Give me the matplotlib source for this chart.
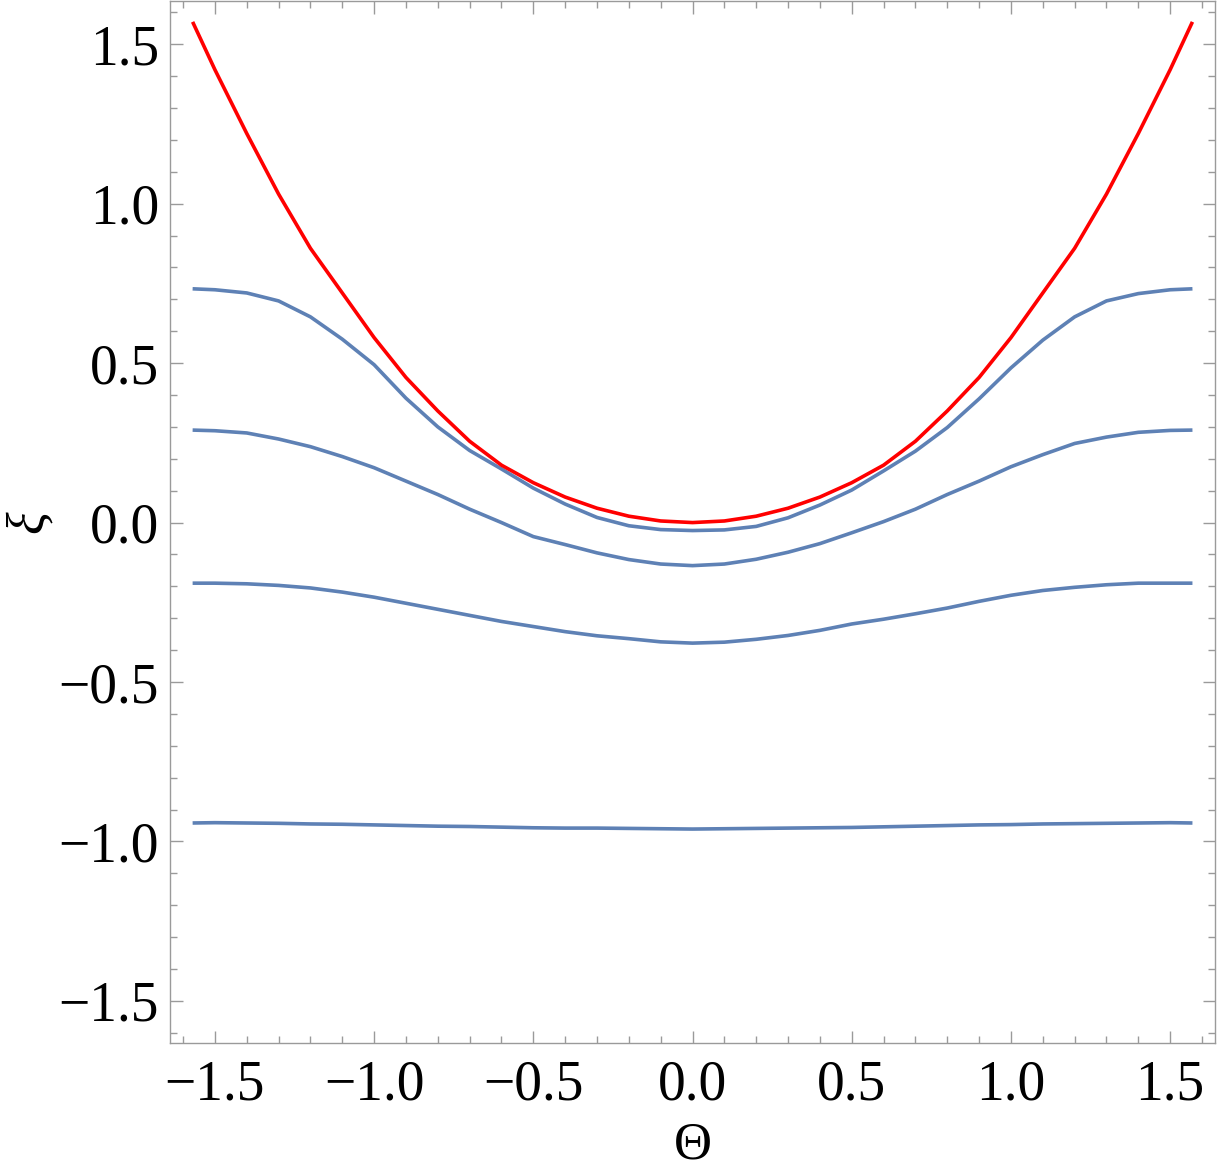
import numpy as np
import matplotlib
matplotlib.use("Agg")
import matplotlib.pyplot as plt
from matplotlib.ticker import MultipleLocator, FuncFormatter

# values
theta = [-1.57, -1.5, -1.4, -1.3, -1.2, -1.1, -1.0, -0.9, -0.8, -0.7, -0.6,
         -0.5, -0.4, -0.3, -0.2, -0.1, 0.0, 0.1, 0.2, 0.3, 0.4, 0.5, 0.6,
         0.7, 0.8, 0.9, 1.0, 1.1, 1.2, 1.3, 1.4, 1.5, 1.57]

xi_red = [1.57, 1.42, 1.22, 1.03, 0.86, 0.72, 0.58, 0.455, 0.35, 0.255, 0.18,
          0.125, 0.08, 0.045, 0.02, 0.005, 0.0, 0.005, 0.02, 0.045, 0.08, 0.125, 0.18,
          0.255, 0.35, 0.455, 0.58, 0.72, 0.86, 1.03, 1.22, 1.42, 1.57]

xi_b1 = [0.733, 0.73, 0.72, 0.695, 0.645, 0.575, 0.495, 0.39, 0.30, 0.226, 0.168,
         0.108, 0.058, 0.016, -0.01, -0.022, -0.025, -0.023, -0.012, 0.015, 0.055, 0.102, 0.162,
         0.224, 0.298, 0.388, 0.485, 0.572, 0.645, 0.695, 0.718, 0.73, 0.733]

xi_b2 = [0.29, 0.288, 0.281, 0.262, 0.238, 0.207, 0.172, 0.13, 0.088, 0.042, 0.0,
         -0.044, -0.069, -0.095, -0.116, -0.13, -0.135, -0.13, -0.115, -0.093, -0.066, -0.032, 0.003,
         0.042, 0.088, 0.13, 0.175, 0.213, 0.248, 0.268, 0.283, 0.289, 0.29]

xi_b3 = [-0.19, -0.19, -0.192, -0.197, -0.205, -0.218, -0.234, -0.253, -0.272, -0.291, -0.31,
         -0.326, -0.342, -0.355, -0.364, -0.374, -0.378, -0.375, -0.366, -0.354, -0.338, -0.318, -0.303,
         -0.286, -0.268, -0.247, -0.228, -0.213, -0.203, -0.195, -0.19, -0.19, -0.19]

xi_b4 = [-0.942, -0.941, -0.942, -0.943, -0.945, -0.946, -0.948, -0.950, -0.952, -0.953, -0.955,
         -0.957, -0.958, -0.958, -0.959, -0.960, -0.961, -0.960, -0.959, -0.958, -0.957, -0.956, -0.954,
         -0.952, -0.950, -0.948, -0.947, -0.945, -0.944, -0.943, -0.942, -0.941, -0.942]

blue = "#5E81B5"
red = "#FF0000"
frame_gray = "#9a9a9a"

plt.rcParams['font.family'] = ['Liberation Serif', 'DejaVu Serif']


def fmt(v, pos):
    # real minus sign like the reference
    return ("%.1f" % v).replace("-", "\u2212")


fig = plt.figure(figsize=(12.17, 11.75), dpi=100)
ax = fig.add_axes([0.1397, 0.1123, 0.8587, 0.8870])

for ys in (xi_b1, xi_b2, xi_b3, xi_b4):
    ax.plot(theta, ys, color=blue, lw=2.6, solid_capstyle='butt')
ax.plot(theta, xi_red, color=red, lw=2.6, solid_capstyle='butt')

ax.set_xlim(-1.641, 1.641)
ax.set_ylim(-1.632, 1.636)

ax.xaxis.set_major_locator(MultipleLocator(0.5))
ax.xaxis.set_minor_locator(MultipleLocator(0.1))
ax.yaxis.set_major_locator(MultipleLocator(0.5))
ax.yaxis.set_minor_locator(MultipleLocator(0.1))
ax.xaxis.set_major_formatter(FuncFormatter(fmt))
ax.yaxis.set_major_formatter(FuncFormatter(fmt))

ax.tick_params(which='both', direction='in', top=True, right=True,
               color=frame_gray, labelsize=40, labelcolor='black', width=1)
ax.tick_params(which='major', length=9)
ax.tick_params(which='minor', length=5)
ax.tick_params(axis='x', which='major', pad=12)
ax.tick_params(axis='y', which='major', pad=8)
for s in ax.spines.values():
    s.set_color(frame_gray)
    s.set_linewidth(1)

ax.set_xlabel("Θ", fontsize=38, labelpad=7)
ax.set_ylabel("ξ", fontsize=38, style='italic', labelpad=4)

fig.savefig("out.png", dpi=100)
